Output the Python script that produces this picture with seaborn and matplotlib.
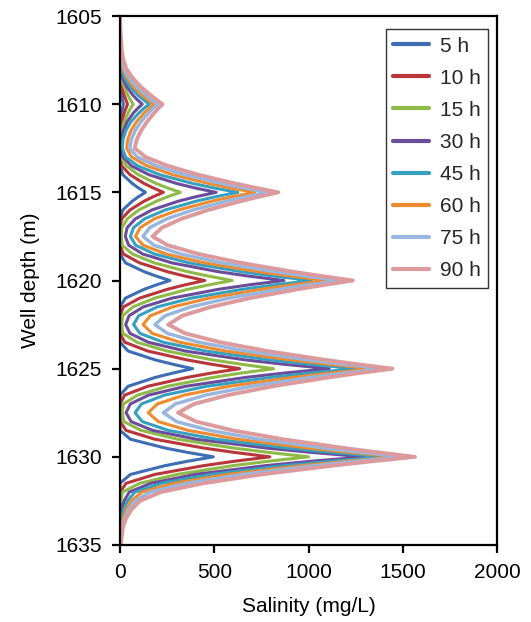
import matplotlib
matplotlib.use("Agg")
import matplotlib.pyplot as plt
import seaborn as sns
import pandas as pd

# ---------------- data ----------------
DEPTH = [1605, 1606, 1607,
         1607.5, 1608, 1608.5, 1609, 1609.5, 1609.75, 1610, 1610.25, 1610.5, 1611, 1611.5, 1612,
         1612.5, 1613, 1613.5, 1614, 1614.5, 1614.75, 1615, 1615.25, 1615.5, 1616, 1616.5, 1617,
         1617.5, 1618, 1618.5, 1619, 1619.5, 1619.75, 1620, 1620.25, 1620.5, 1621, 1621.5, 1622,
         1622.5, 1623, 1623.5, 1624, 1624.5, 1624.75, 1625, 1625.25, 1625.5, 1626, 1626.5, 1627,
         1627.5, 1628, 1628.5, 1629, 1629.5, 1629.75, 1630, 1630.25, 1630.5, 1631, 1631.5, 1632,
         1632.5, 1633, 1633.5, 1634, 1635]

SAL_5H = [0, 0, 0,
          0, 0, 0, 2, 9, 13, 18, 13, 9, 2, 0, 0,
          0, 0, 0, 15, 65, 98, 135, 98, 65, 15, 0, 0,
          0, 0, 0, 29, 128, 192, 265, 192, 128, 29, 0, 0,
          0, 0, 0, 43, 186, 280, 385, 280, 186, 43, 0, 0,
          0, 0, 0, 55, 239, 359, 495, 359, 239, 55, 0, 0,
          0, 0, 0, 0, 0]

SAL_10H = [0, 0, 0,
           0, 0, 2, 9, 22, 31, 40, 31, 22, 9, 2, 0,
           0, 0, 9, 53, 128, 176, 230, 176, 128, 53, 9, 0,
           0, 0, 18, 104, 251, 344, 450, 344, 251, 104, 18, 0,
           0, 0, 25, 147, 354, 485, 635, 485, 354, 147, 25, 0,
           0, 0, 32, 184, 443, 607, 795, 607, 443, 184, 32, 0,
           0, 0, 0, 0, 0]

SAL_15H = [0, 0, 0,
           0, 1, 7, 21, 42, 55, 70, 55, 43, 22, 9, 3,
           2, 5, 34, 97, 192, 252, 320, 253, 194, 100, 39, 10,
           7, 12, 66, 182, 358, 469, 595, 470, 359, 184, 68, 14,
           9, 15, 90, 249, 490, 643, 815, 643, 491, 251, 93, 18,
           12, 20, 112, 306, 602, 789, 1000, 787, 599, 302, 105, 13,
           5, 1, 0, 0, 0]

SAL_30H = [0, 0, 0,
           0, 2, 13, 35, 69, 92, 118, 93, 71, 38, 18, 7,
           5, 16, 61, 153, 301, 397, 510, 403, 310, 169, 82, 38,
           28, 46, 121, 275, 521, 682, 870, 683, 522, 276, 123, 48,
           30, 53, 150, 346, 663, 869, 1110, 870, 664, 348, 152, 55,
           32, 59, 173, 404, 775, 1017, 1300, 1015, 771, 396, 164, 49,
           22, 8, 2, 0, 0]

SAL_45H = [0, 0, 1,
           3, 7, 23, 52, 96, 124, 155, 125, 100, 58, 31, 16,
           12, 30, 94, 211, 387, 498, 625, 507, 404, 240, 131, 72,
           55, 83, 183, 367, 643, 816, 1015, 820, 649, 378, 197, 99,
           72, 106, 229, 455, 793, 1006, 1250, 1008, 796, 460, 236, 114,
           80, 118, 256, 509, 888, 1127, 1400, 1118, 872, 482, 221, 79,
           40, 18, 7, 2, 0]

SAL_60H = [0, 0, 4,
           8, 15, 36, 70, 118, 147, 180, 152, 128, 87, 58, 41,
           35, 62, 144, 280, 470, 586, 715, 595, 487, 310, 183, 107,
           82, 123, 245, 448, 734, 907, 1100, 914, 748, 474, 278, 161,
           122, 171, 317, 560, 902, 1109, 1340, 1114, 912, 578, 340, 198,
           150, 203, 361, 625, 995, 1219, 1470, 1202, 962, 568, 286, 116,
           60, 32, 16, 6, 0]

SAL_75H = [0, 2, 6,
           12, 22, 48, 87, 138, 167, 200, 174, 151, 111, 80, 60,
           52, 92, 193, 344, 542, 658, 785, 670, 566, 387, 249, 158,
           122, 180, 323, 540, 823, 989, 1170, 1000, 844, 578, 374, 239,
           185, 252, 417, 668, 994, 1186, 1395, 1193, 1009, 695, 454, 294,
           230, 300, 475, 739, 1083, 1284, 1505, 1258, 1033, 649, 354, 158,
           80, 45, 25, 11, 1]

SAL_90H = [0, 3, 10,
           18, 34, 66, 109, 163, 193, 225, 202, 181, 143, 112, 89,
           78, 136, 254, 414, 611, 722, 840, 736, 640, 467, 326, 223,
           172, 253, 418, 641, 916, 1070, 1235, 1083, 941, 688, 482, 330,
           256, 346, 531, 780, 1088, 1261, 1445, 1269, 1104, 809, 571, 394,
           308, 404, 598, 862, 1188, 1370, 1565, 1339, 1127, 749, 442, 216,
           105, 60, 32, 15, 4]

SERIES_LABELS = ["5 h", "10 h", "15 h", "30 h", "45 h", "60 h", "75 h", "90 h"]
SERIES_VALUES = [SAL_5H, SAL_10H, SAL_15H, SAL_30H, SAL_45H, SAL_60H, SAL_75H, SAL_90H]
COLORS = ["#3d6db3", "#b8363a", "#8fba47", "#6b4c9b", "#36a0c0", "#ef8a2f", "#99b6df", "#dd9a9c"]

X_TICKS = [0, 500, 1000, 1500, 2000]
Y_TICKS = [1605, 1610, 1615, 1620, 1625, 1630, 1635]

# ---------------- build table ----------------
rows = []
for lab, vals in zip(SERIES_LABELS, SERIES_VALUES):
    for d, v in zip(DEPTH, vals):
        rows.append({"Depth": d, "Salinity": v, "Time": lab})
df = pd.DataFrame(rows)

# ---------------- plot ----------------
sns.set_theme(style="white")
plt.rcParams["font.family"] = ["Liberation Sans", "DejaVu Sans"]

fig = plt.figure(figsize=(5.31, 6.22), dpi=100)
ax = fig.add_axes([120 / 531, 1 - 545 / 622, 377 / 531, 529 / 622])

sns.lineplot(data=df, x="Salinity", y="Depth", hue="Time", hue_order=SERIES_LABELS,
             palette=COLORS, sort=False, estimator=None, linewidth=2.2, ax=ax,
             legend=False, zorder=3)
ax.lines[-1].set_linewidth(2.8)
ax.lines[-2].set_linewidth(2.5)
for ln in ax.lines:
    ln.set_solid_joinstyle("round")

ax.set_xlim(0, 2000)
ax.set_ylim(1635, 1605)
ax.set_xticks(X_TICKS)
ax.set_yticks(Y_TICKS)
ax.set_xticklabels([str(t) for t in X_TICKS])
ax.set_yticklabels([str(t) for t in Y_TICKS])

for s in ax.spines.values():
    s.set_color("black")
    s.set_linewidth(1.6)
    s.set_zorder(4)

ax.tick_params(axis="both", which="major", direction="out", length=6, width=1.6,
               color="black", labelsize=15, labelcolor="black", pad=7,
               left=True, bottom=True)

ax.set_xlabel("Salinity (mg/L)", fontsize=15, color="black", labelpad=11)
ax.set_ylabel("Well depth (m)", fontsize=15, color="black", labelpad=11)

leg = ax.legend(ax.lines[:8], SERIES_LABELS, loc="upper right",
                bbox_to_anchor=(0.976, 0.975), borderaxespad=0,
                fontsize=15, frameon=True, fancybox=False, shadow=False,
                edgecolor="black", handlelength=1.75, handletextpad=0.5,
                labelspacing=0.63, borderpad=0.35)
leg.get_frame().set_linewidth(1.0)
for h in leg.get_lines():
    h.set_linewidth(3.0)

fig.savefig("out.png", dpi=100)
